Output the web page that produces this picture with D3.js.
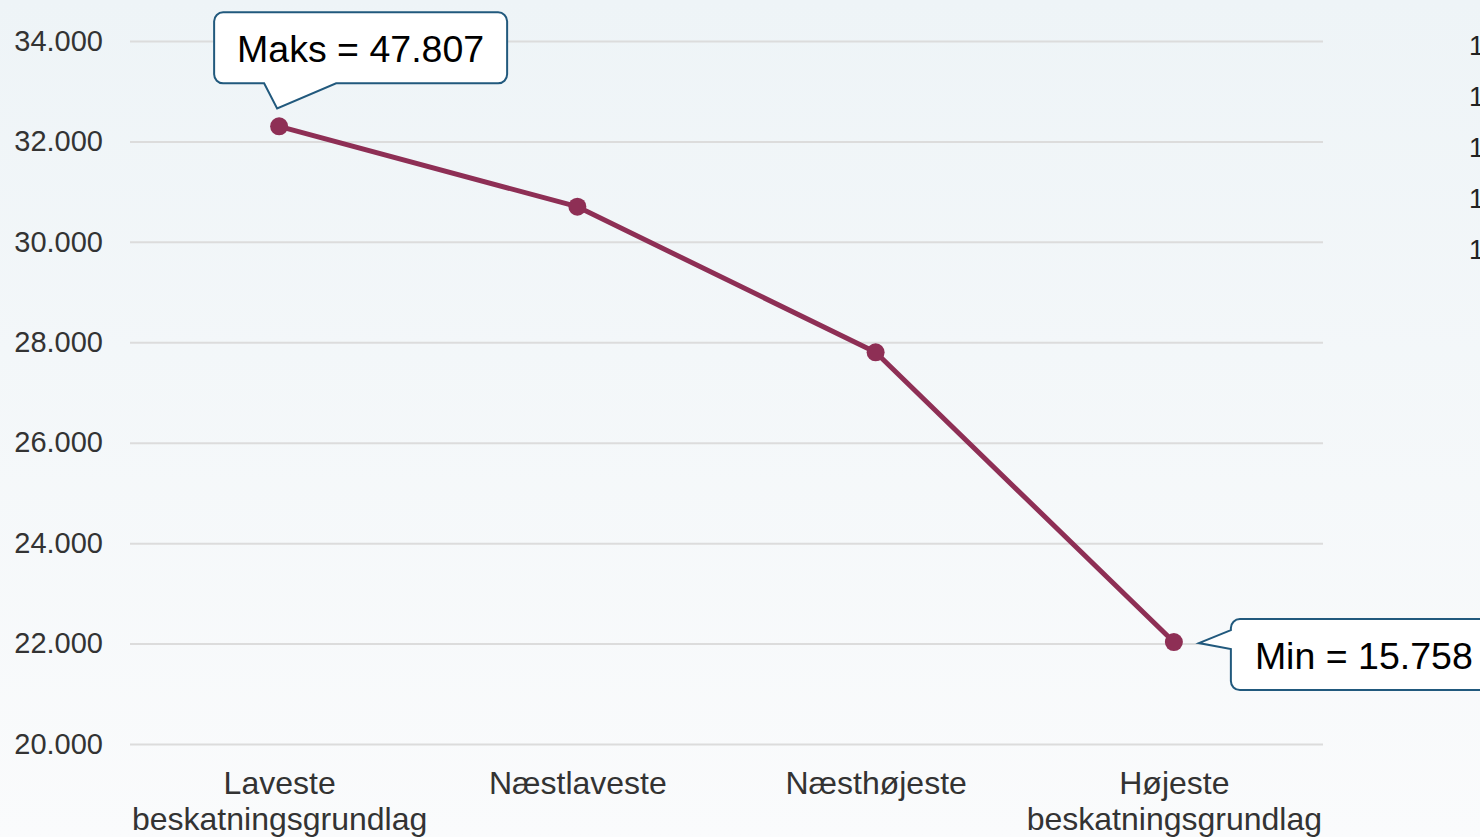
<html>
<head>
<meta charset="utf-8">
<script src="https://d3js.org/d3.v7.min.js"></script>
<style>
body { margin:0; overflow:hidden; }
</style>
</head>
<body>
<script>

var width = 1480;
var height = 837;
var margin = {top:41, right:157, bottom:93, left:130};
var w = width - margin.left - margin.right;
var h = height - margin.top - margin.bottom;

// data
var categories = ["Laveste\nbeskatningsgrundlag", "Næstlaveste", "Næsthøjeste", "Højeste\nbeskatningsgrundlag"];
var values = [32300, 30700, 27800, 22030];
var yTicks = [20000, 22000, 24000, 26000, 28000, 30000, 32000, 34000];
var maxLabel = "Maks = 47.807";
var minLabel = "Min = 15.758";
var sideLabels = ["1", "1", "1", "1", "1"];

var fmt = d3.formatLocale({decimal:",", thousands:".", grouping:[3], currency:["","kr"]}).format(",.0f");

var svg = d3.select("body").append("svg")
    .attr("width", width)
    .attr("height", height)
    .style("font-family", "'Liberation Sans', Arial, sans-serif");

var grad = svg.append("defs").append("linearGradient")
    .attr("id", "bg").attr("x1", 0).attr("y1", 0).attr("x2", 0).attr("y2", 1);
grad.append("stop").attr("offset", "0%").attr("stop-color", "#eef4f7");
grad.append("stop").attr("offset", "100%").attr("stop-color", "#fafbfc");

svg.append("rect").attr("width", width).attr("height", height).attr("fill", "url(#bg)");

var g = svg.append("g")
    .attr("transform", "translate(" + margin.left + "," + margin.top + ")");

var x = d3.scalePoint()
    .domain(categories)
    .range([0, w])
    .padding(0.5);

var y = d3.scaleLinear()
    .domain([20000, 34000])
    .range([h, 0]);

// grid + y labels
var yAxis = g.append("g")
    .call(d3.axisLeft(y).tickValues(yTicks).tickSize(-w).tickPadding(27).tickFormat(fmt));
yAxis.select(".domain").remove();
yAxis.selectAll(".tick line").attr("stroke", "#dcdcdc").attr("stroke-width", 2);
yAxis.selectAll(".tick text")
    .attr("fill", "#333")
    .style("font-size", "29px")
    .style("font-family", "'Liberation Sans', Arial, sans-serif");

// x labels
var xAxis = g.append("g")
    .attr("transform", "translate(0," + h + ")")
    .call(d3.axisBottom(x).tickSize(0).tickFormat(""));
xAxis.select(".domain").remove();
xAxis.selectAll(".tick").each(function(d) {
  var lines = d.split("\n");
  var t = d3.select(this).append("text")
      .attr("fill", "#333")
      .attr("text-anchor", "middle")
      .style("font-size", "32px");
  lines.forEach(function(l, i) {
    t.append("tspan").attr("x", 0).attr("y", 50 + i * 36).text(l);
  });
});

// line
var data = categories.map(function(c, i) { return {cat:c, v:values[i]}; });

g.append("path")
    .datum(data)
    .attr("fill", "none")
    .attr("stroke", "#8e2f55")
    .attr("stroke-width", 5)
    .attr("stroke-linejoin", "round")
    .attr("d", d3.line().x(function(d){ return x(d.cat); }).y(function(d){ return y(d.v); }));

g.selectAll("circle.pt")
    .data(data)
  .enter().append("circle")
    .attr("class", "pt")
    .attr("cx", function(d){ return x(d.cat); })
    .attr("cy", function(d){ return y(d.v); })
    .attr("r", 9)
    .attr("fill", "#8e2f55");

// callouts
var bStroke = "#21597d";

// max: box above point, tail pointing down
var mx = x(categories[0]), my = y(values[0]);
var maxBox = {x: mx - 65, y: my - 114, w: 293, h: 71, r: 9};
var maxPath = d3.path();
(function(b) {
  var tx = mx - 2, ty = my - 18;
  maxPath.moveTo(b.x + b.r, b.y);
  maxPath.lineTo(b.x + b.w - b.r, b.y);
  maxPath.arcTo(b.x + b.w, b.y, b.x + b.w, b.y + b.r, b.r);
  maxPath.lineTo(b.x + b.w, b.y + b.h - b.r);
  maxPath.arcTo(b.x + b.w, b.y + b.h, b.x + b.w - b.r, b.y + b.h, b.r);
  maxPath.lineTo(mx + 57, b.y + b.h);
  maxPath.lineTo(tx, ty);
  maxPath.lineTo(mx - 15, b.y + b.h);
  maxPath.lineTo(b.x + b.r, b.y + b.h);
  maxPath.arcTo(b.x, b.y + b.h, b.x, b.y + b.h - b.r, b.r);
  maxPath.lineTo(b.x, b.y + b.r);
  maxPath.arcTo(b.x, b.y, b.x + b.r, b.y, b.r);
  maxPath.closePath();
})(maxBox);
g.append("path").attr("d", maxPath.toString())
    .attr("fill", "#fff").attr("stroke", bStroke).attr("stroke-width", 2);
g.append("text")
    .attr("x", maxBox.x + maxBox.w / 2)
    .attr("y", maxBox.y + 50)
    .attr("text-anchor", "middle")
    .attr("fill", "#000")
    .style("font-size", "37.5px")
    .text(maxLabel);

// min: box right of point, tail pointing left
var nx = x(categories[3]), ny = y(values[3]);
var minBox = {x: nx + 57, y: ny - 23, w: 300, h: 71, r: 9};
var minPath = d3.path();
(function(b) {
  var tx = nx + 25, ty = ny + 1;
  minPath.moveTo(b.x + b.r, b.y);
  minPath.lineTo(b.x + b.w - b.r, b.y);
  minPath.arcTo(b.x + b.w, b.y, b.x + b.w, b.y + b.r, b.r);
  minPath.lineTo(b.x + b.w, b.y + b.h - b.r);
  minPath.arcTo(b.x + b.w, b.y + b.h, b.x + b.w - b.r, b.y + b.h, b.r);
  minPath.lineTo(b.x + b.r, b.y + b.h);
  minPath.arcTo(b.x, b.y + b.h, b.x, b.y + b.h - b.r, b.r);
  minPath.lineTo(b.x, ny + 7);
  minPath.lineTo(tx, ty);
  minPath.lineTo(b.x, ny - 12);
  minPath.lineTo(b.x, b.y + b.r);
  minPath.arcTo(b.x, b.y, b.x + b.r, b.y, b.r);
  minPath.closePath();
})(minBox);
g.append("path").attr("d", minPath.toString())
    .attr("fill", "#fff").attr("stroke", bStroke).attr("stroke-width", 2);
g.append("text")
    .attr("x", minBox.x + 24)
    .attr("y", minBox.y + 50)
    .attr("fill", "#000")
    .style("font-size", "37.5px")
    .text(minLabel);

// labels cut off at the right edge, as in the source image
svg.append("g").selectAll("text")
    .data(sideLabels)
  .enter().append("text")
    .attr("x", 1469)
    .attr("y", function(d, i){ return 55 + i * 51; })
    .attr("fill", "#222")
    .style("font-size", "27px")
    .text(function(d){ return d; });

</script>
</body>
</html>
